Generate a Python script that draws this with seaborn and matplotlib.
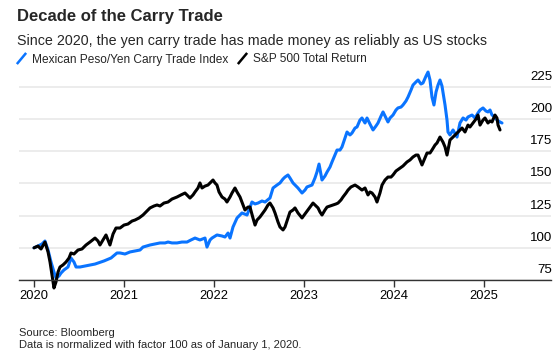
import numpy as np
import pandas as pd
import seaborn as sns
import matplotlib
matplotlib.use("Agg")
import matplotlib.pyplot as plt
from matplotlib.lines import Line2D
from matplotlib.transforms import ScaledTranslation

# ---------------- data (years since 2020-01-01, index value) ----------------
peso_t = [0.000, 0.044, 0.089, 0.122, 0.156, 0.189, 0.222, 0.244, 0.278, 0.300,
          0.333, 0.378, 0.411, 0.444, 0.467, 0.511, 0.567, 0.622, 0.678, 0.711,
          0.778, 0.856, 0.922, 0.956, 1.011, 1.067, 1.122, 1.178, 1.211, 1.289,
          1.344, 1.400, 1.456, 1.489, 1.533, 1.589, 1.644, 1.700, 1.744, 1.789,
          1.844, 1.900, 1.922, 1.956, 1.978, 2.033, 2.089, 2.122, 2.156, 2.178,
          2.211, 2.256, 2.311, 2.367, 2.422, 2.456, 2.489, 2.533, 2.567, 2.622,
          2.656, 2.700, 2.733, 2.767, 2.789, 2.822, 2.844, 2.878, 2.911, 2.933,
          2.978, 3.011, 3.033, 3.089, 3.122, 3.144, 3.167, 3.200, 3.233, 3.256,
          3.289, 3.311, 3.344, 3.367, 3.400, 3.422, 3.456, 3.478, 3.511, 3.533,
          3.567, 3.589, 3.622, 3.644, 3.678, 3.700, 3.733, 3.767, 3.800, 3.822,
          3.856, 3.878, 3.911, 3.933, 3.956, 3.989, 4.022, 4.044, 4.078, 4.100,
          4.133, 4.156, 4.189, 4.211, 4.244, 4.267, 4.300, 4.322, 4.356, 4.378,
          4.400, 4.422, 4.444, 4.467, 4.489, 4.511, 4.533, 4.544, 4.567, 4.589,
          4.600, 4.622, 4.656, 4.700, 4.733, 4.767, 4.800, 4.822, 4.867, 4.900,
          4.933, 4.956, 4.989, 5.022, 5.044, 5.067, 5.089, 5.122, 5.144, 5.178,
          5.200]
peso_v = [100.0, 101.4, 103.0, 105.3, 98.3, 89.0, 81.2, 76.6, 78.1, 80.4,
          82.8, 85.1, 92.1, 89.0, 85.1, 85.1, 85.9, 86.7, 87.4, 88.2,
          89.8, 92.1, 96.0, 96.0, 95.2, 96.8, 97.5, 98.3, 100.6, 102.2,
          103.0, 103.8, 103.8, 104.5, 103.8, 103.8, 104.5, 104.5, 106.1, 107.6,
          106.1, 107.6, 100.6, 106.1, 107.6, 110.0, 109.2, 108.4, 111.5, 107.6,
          116.2, 123.2, 127.1, 125.5, 135.6, 134.1, 134.8, 136.4, 135.6, 138.7,
          146.5, 148.8, 150.4, 153.5, 155.0, 156.6, 154.3, 150.4, 148.0, 146.5,
          142.6, 144.9, 147.3, 148.8, 154.3, 158.9, 165.1, 152.7, 155.8, 158.9,
          162.8, 166.7, 172.1, 176.0, 176.0, 178.4, 185.3, 190.0, 187.7, 189.2,
          193.1, 193.9, 199.3, 200.9, 197.0, 200.9, 196.2, 191.6, 194.7, 197.0,
          202.4, 205.6, 200.9, 197.8, 200.9, 203.2, 207.1, 208.7, 209.4, 211.0,
          214.1, 217.2, 222.6, 226.5, 228.9, 230.4, 227.3, 228.1, 233.5, 236.6,
          230.4, 217.2, 211.0, 221.1, 226.5, 230.4, 225.8, 221.1, 211.0, 199.3,
          190.0, 187.7, 191.6, 186.1, 197.0, 200.9, 199.3, 201.7, 203.2, 200.9,
          204.8, 207.1, 208.7, 206.3, 205.6, 207.1, 203.2, 201.7, 199.3, 197.8,
          197.0]

spx_t = [0.000, 0.044, 0.078, 0.122, 0.156, 0.178, 0.200, 0.222, 0.244, 0.267,
         0.289, 0.322, 0.356, 0.389, 0.411, 0.444, 0.489, 0.533, 0.578, 0.622,
         0.678, 0.711, 0.733, 0.767, 0.800, 0.822, 0.844, 0.878, 0.911, 0.956,
         1.000, 1.044, 1.089, 1.122, 1.167, 1.211, 1.244, 1.289, 1.333, 1.367,
         1.400, 1.444, 1.489, 1.533, 1.589, 1.633, 1.678, 1.711, 1.733, 1.767,
         1.789, 1.822, 1.844, 1.867, 1.900, 1.933, 1.967, 1.989, 2.011, 2.033,
         2.056, 2.089, 2.122, 2.144, 2.178, 2.200, 2.233, 2.256, 2.289, 2.322,
         2.344, 2.378, 2.400, 2.433, 2.456, 2.478, 2.511, 2.544, 2.567, 2.600,
         2.622, 2.656, 2.678, 2.711, 2.733, 2.767, 2.789, 2.822, 2.844, 2.878,
         2.900, 2.933, 2.978, 3.011, 3.044, 3.078, 3.100, 3.133, 3.156, 3.178,
         3.200, 3.233, 3.256, 3.289, 3.322, 3.356, 3.378, 3.411, 3.433, 3.467,
         3.489, 3.522, 3.567, 3.600, 3.644, 3.678, 3.711, 3.733, 3.756, 3.789,
         3.811, 3.844, 3.867, 3.900, 3.933, 3.967, 3.989, 4.022, 4.067, 4.100,
         4.144, 4.178, 4.211, 4.244, 4.267, 4.289, 4.311, 4.344, 4.367, 4.400,
         4.422, 4.456, 4.478, 4.511, 4.544, 4.567, 4.589, 4.622, 4.656, 4.700,
         4.733, 4.756, 4.789, 4.822, 4.844, 4.878, 4.911, 4.933, 4.956, 4.989,
         5.011, 5.044, 5.067, 5.089, 5.122, 5.144, 5.156, 5.178]
spx_v = [100.0, 101.4, 99.1, 104.5, 96.8, 89.0, 78.9, 68.8, 73.4, 81.2,
         85.1, 86.7, 89.0, 92.1, 96.0, 95.2, 98.3, 99.1, 102.2, 104.5,
         107.6, 105.3, 102.2, 106.1, 110.0, 106.1, 102.2, 110.7, 115.4, 115.4,
         117.7, 118.5, 120.8, 121.6, 123.2, 125.5, 127.8, 131.0, 132.5, 133.3,
         132.5, 134.8, 135.6, 137.9, 139.5, 141.1, 142.6, 140.3, 138.7, 141.1,
         143.4, 146.5, 150.4, 146.5, 148.0, 148.8, 151.2, 152.7, 150.4, 148.8,
         143.4, 139.5, 137.9, 135.6, 139.5, 142.6, 146.5, 143.4, 139.5, 133.3,
         129.4, 131.7, 131.7, 123.2, 117.7, 121.6, 124.0, 127.1, 129.4, 133.3,
         134.8, 131.0, 127.1, 120.1, 116.2, 113.9, 116.2, 123.2, 127.8, 129.4,
         131.0, 127.1, 123.2, 126.3, 129.4, 132.5, 134.8, 132.5, 131.0, 127.8,
         125.5, 129.4, 131.7, 132.5, 133.3, 134.1, 134.8, 137.2, 139.5, 142.6,
         144.9, 147.3, 148.8, 147.3, 144.9, 146.5, 141.1, 143.4, 142.6, 139.5,
         135.6, 142.6, 148.8, 152.7, 155.0, 155.0, 156.6, 159.7, 162.0, 163.6,
         166.7, 168.3, 170.6, 172.1, 172.1, 168.3, 164.4, 169.8, 173.7, 173.7,
         176.0, 179.9, 181.5, 186.1, 182.2, 178.4, 172.1, 183.8, 186.1, 189.2,
         191.6, 193.1, 190.0, 195.4, 193.9, 197.0, 200.1, 203.2, 195.4, 199.3,
         200.9, 197.0, 198.6, 197.8, 203.2, 200.9, 195.4, 191.6]

series_names = ["Mexican Peso/Yen Carry Trade Index", "S&P 500 Total Return"]
series_colors = ["#0a74ff", "#000000"]
year_ticks = [2020, 2021, 2022, 2023, 2024, 2025]
y_ticks = [75, 100, 125, 150, 175, 200, 225]

title = "Decade of the Carry Trade"
subtitle = "Since 2020, the yen carry trade has made money as reliably as US stocks"
source_lines = ["Source: Bloomberg", "Data is normalized with factor 100 as of January 1, 2020."]

# ---------------- build frame ----------------
start = pd.Timestamp("2020-01-01")
def to_dates(t):
    return start + pd.to_timedelta(np.asarray(t) * 365.25, unit="D")

df = pd.concat([
    pd.DataFrame({"date": to_dates(peso_t), "value": peso_v, "series": series_names[0]}),
    pd.DataFrame({"date": to_dates(spx_t), "value": spx_v, "series": series_names[1]}),
])

# ---------------- style ----------------
sns.set_theme(style="white")
plt.rcParams["font.family"] = ["Liberation Sans", "DejaVu Sans"]

W, H = 558, 360
fig = plt.figure(figsize=(W / 100, H / 100), dpi=100)

ylo, yhi = 65, 240
px_per_unit = 32.17 / 25
ax_bottom_px = 280 + (75 - ylo) * px_per_unit
ax_top_px = 280 - (yhi - 75) * px_per_unit
ax_left_px, ax_right_px = 19, 551
ax = fig.add_axes([ax_left_px / W, 1 - ax_bottom_px / H,
                   (ax_right_px - ax_left_px) / W, (ax_bottom_px - ax_top_px) / H])

sns.lineplot(data=df, x="date", y="value", hue="series", palette=series_colors,
             hue_order=series_names, linewidth=2.2, ax=ax, legend=False,
             estimator=None, sort=False)

x0 = start + pd.to_timedelta((ax_left_px - 34) / 90 * 365.25, unit="D")
x1 = start + pd.to_timedelta((ax_right_px - 34) / 90 * 365.25, unit="D")
ax.set_xlim(x0, x1)
ax.set_ylim(ylo, yhi)
ax.set_xlabel("")
ax.set_ylabel("")

for s in ["top", "left", "right"]:
    ax.spines[s].set_visible(False)
ax.spines["bottom"].set_position(("data", 75))
ax.spines["bottom"].set_color("#333333")
ax.spines["bottom"].set_linewidth(1.0)

ax.set_xticks([pd.Timestamp(f"{y}-01-01") for y in year_ticks])
ax.set_xticklabels([str(y) for y in year_ticks])
ax.tick_params(axis="x", direction="out", length=5, width=1.0, color="#333333",
               labelsize=9.3, labelcolor="#000000", pad=2.5, bottom=True)

ax.yaxis.tick_right()
ax.set_yticks(y_ticks)
ax.set_yticklabels([str(v) for v in y_ticks])
ax.tick_params(axis="y", length=0, labelsize=9.6, labelcolor="#000000", pad=1)
offset = ScaledTranslation(0, 4 / 100, fig.dpi_scale_trans)
for lab in ax.get_yticklabels():
    lab.set_horizontalalignment("right")
    lab.set_verticalalignment("bottom")
    lab.set_transform(lab.get_transform() + offset)

ax.grid(axis="y", color="#ebebeb", linewidth=1.3)
ax.grid(axis="x", visible=False)
ax.set_axisbelow(True)

# ---------------- texts ----------------
fig.text(17 / W, 1 - 21 / H, title, fontsize=12.0, fontweight="bold", va="baseline", ha="left")
fig.text(17 / W, 1 - 44.5 / H, subtitle, fontsize=10.3, va="baseline", ha="left")

handles = [Line2D([], [], color=c, marker=[(-1, -1.2), (1, 1.2)], linestyle="none",
                  markersize=8, markeredgewidth=1.8, markeredgecolor=c)
           for c in series_colors]
fig.legend(handles, series_names, loc="upper left", bbox_to_anchor=(15 / W, 1 - 53.5 / H),
           ncol=2, frameon=False, fontsize=8.6, handlelength=1.0, handletextpad=0.45,
           columnspacing=0.6, borderaxespad=0, borderpad=0)

fig.text(19 / W, 1 - 336 / H, source_lines[0], fontsize=8.0, va="baseline", ha="left")
fig.text(19 / W, 1 - 348 / H, source_lines[1], fontsize=8.0, va="baseline", ha="left")

fig.savefig("out.png", dpi=100, facecolor="white")
